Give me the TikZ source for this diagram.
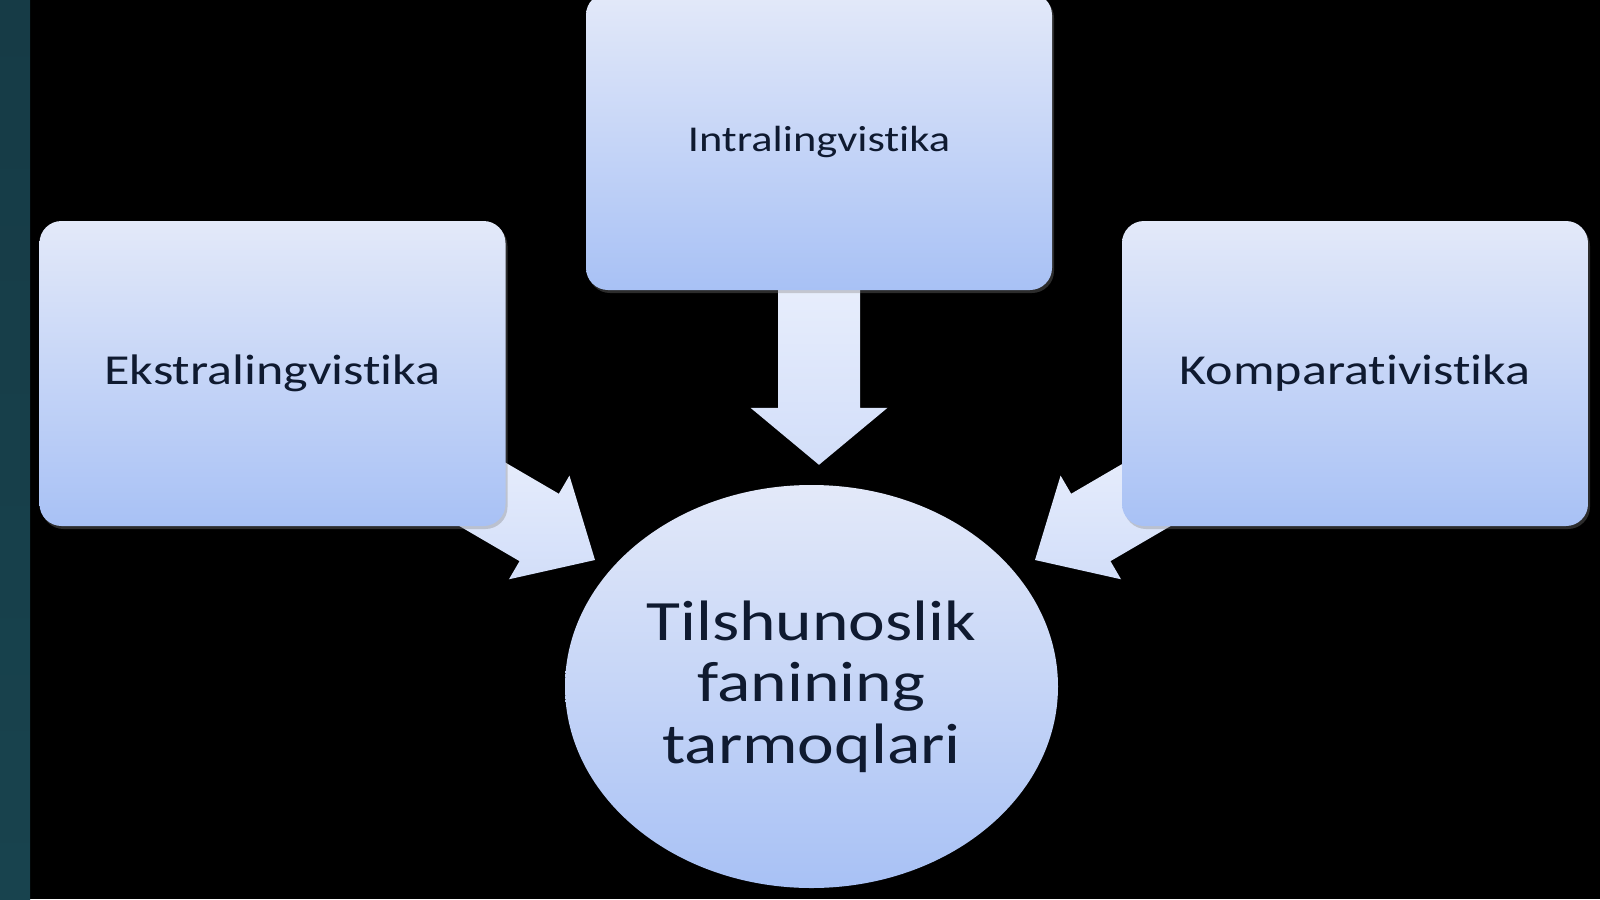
\documentclass[tikz,border=0pt]{standalone}
\usepackage{fontspec}
\setmainfont{Carlito}
\newfontfamily\widefont[FakeStretch=1.22, RawFeature={-liga;-clig;-calt;-dlig}]{Carlito}
\usetikzlibrary{shapes.geometric,calc,shadows}
\definecolor{boxtop}{HTML}{E3E9F9}
\definecolor{boxbot}{HTML}{A8C1F5}
\definecolor{arrtop}{HTML}{E8EEFC}
\definecolor{arrbot}{HTML}{D2DEF9}
\definecolor{txt}{HTML}{0F1A30}
\definecolor{stripA}{HTML}{163B46}
\definecolor{stripB}{HTML}{1C5561}
\definecolor{stripC}{HTML}{18434E}
\pgfdeclarelayer{back}
\pgfdeclarelayer{arrows}
\pgfsetlayers{back,arrows,main}
\tikzset{
  topicbox/.style={rounded corners=22pt, top color=boxtop, bottom color=boxbot,
    minimum width=466pt, minimum height=305pt, inner sep=0pt, text=txt,
    drop shadow={shadow xshift=2pt, shadow yshift=-3pt, opacity=0.35}},
  hubshape/.style={ellipse, top color=boxtop, bottom color=boxbot,
    minimum width=493pt, minimum height=403pt, inner sep=0pt, text=txt, align=center},
  arrowfill/.style={top color=arrtop, bottom color=arrbot, draw=none}
}
% tail, tip, shaft half width, head half width, head length
\newcommand{\blockarrow}[5]{%
  \coordinate (ah) at ($(#2)!#5!(#1)$);
  \path[arrowfill] ($(#1)!#3!90:(#2)$) -- ($(ah)!#3!90:(#2)$) -- ($(ah)!#4!90:(#2)$)
    -- (#2) -- ($(ah)!#4!-90:(#2)$) -- ($(ah)!#3!-90:(#2)$) -- ($(#1)!#3!-90:(#2)$) -- cycle;
}
\begin{document}
\begin{tikzpicture}[x=1pt,y=-1pt]
\useasboundingbox (0,0) rectangle (1600,899);
\begin{pgfonlayer}{back}
  \fill[black] (0,0) rectangle (1600,899);
  \shade[top color=stripA, middle color=stripB, bottom color=stripC] (0,0) rectangle (30,899);
\end{pgfonlayer}

\node[topicbox, minimum height=297pt, font={\widefont\fontsize{36.4pt}{40pt}\selectfont}]
  (intra) at (819,141.5) {Intralingvist\kern0pt ika};
\node[topicbox, font={\widefont\fontsize{42.7pt}{46pt}\selectfont}]
  (ekstra) at (272.5,373.5) {Ekstralingvist\kern0pt ika};
\node[topicbox, font={\widefont\fontsize{42.7pt}{46pt}\selectfont}]
  (kompar) at (1355,373.5) {Komparat\kern0pt ivist\kern0pt ika};
\node[hubshape, font={\widefont\fontsize{57pt}{61.5pt}\selectfont}]
  (hub) at (811.5,686.5) {Tilshunoslik\\fanining\\tarmoqlari};

\coordinate (dtail) at ([yshift=10pt]intra.south);
\coordinate (dtip) at ([yshift=20pt]dtail |- hub.north);
\coordinate (ltail) at (457,479.5);
\coordinate (ltip) at (595,560);
\coordinate (rtail) at (1173,479.5);
\coordinate (rtip) at (1035,560);

\begin{pgfonlayer}{arrows}
  \blockarrow{dtail}{dtip}{41pt}{68.5pt}{57pt}
  \blockarrow{ltail}{ltip}{39pt}{60pt}{64.6pt}
  \blockarrow{rtail}{rtip}{39pt}{60pt}{64.6pt}
\end{pgfonlayer}
\end{tikzpicture}
\end{document}
